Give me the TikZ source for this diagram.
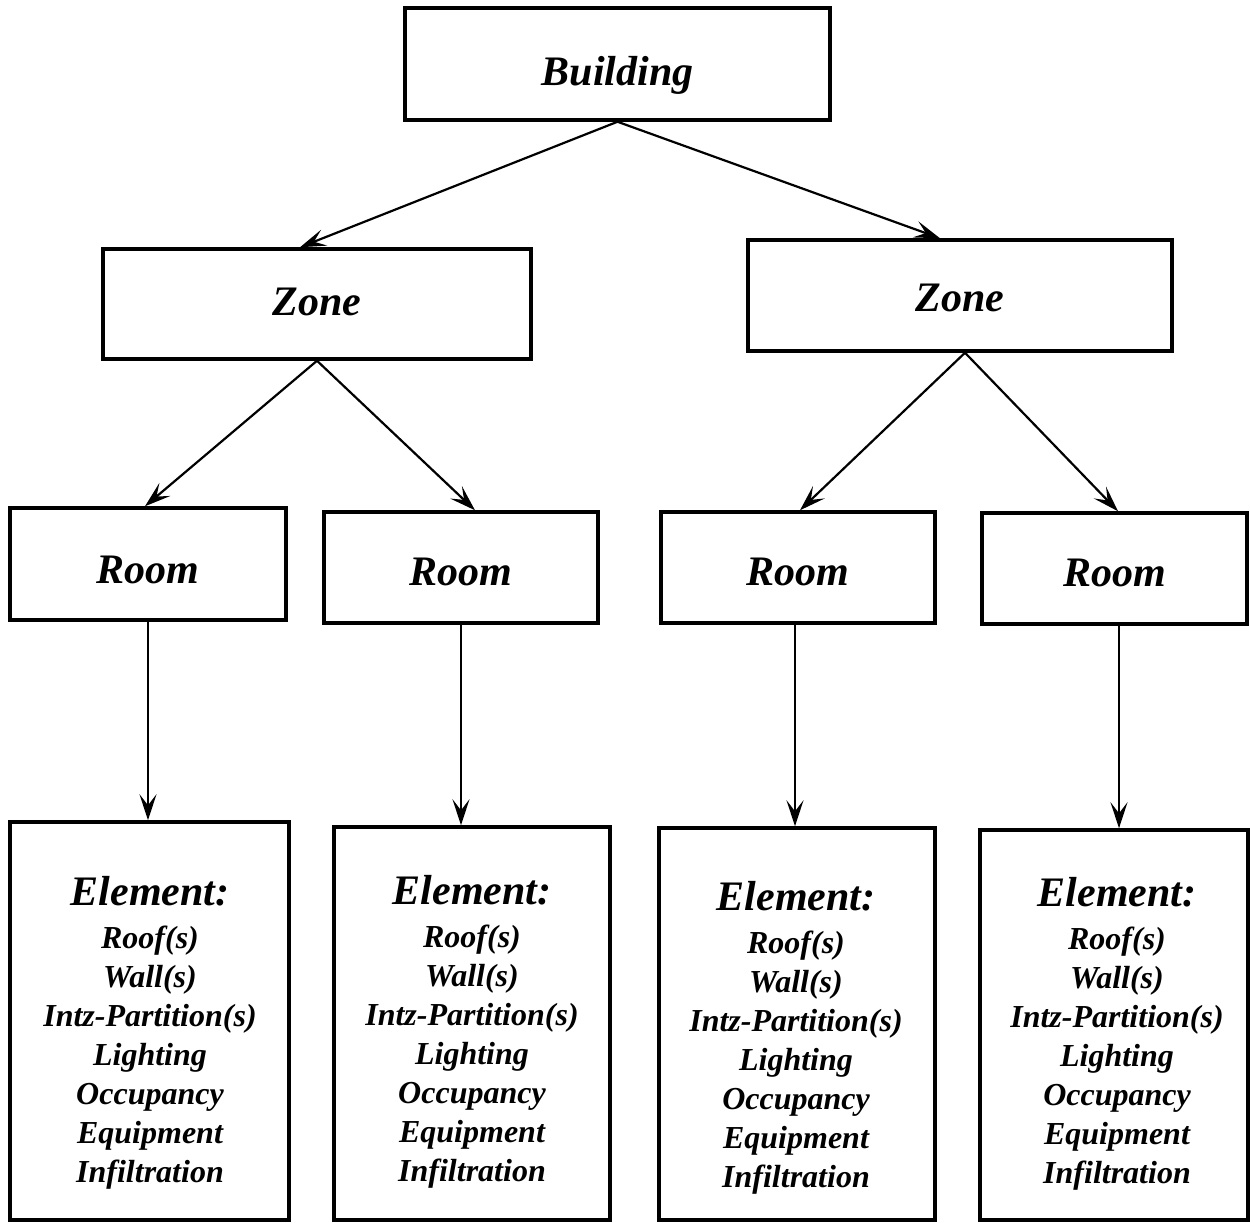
\documentclass[tikz,border=0pt]{standalone}
\usepackage{fontspec}
\setmainfont{Liberation Serif}
\usetikzlibrary{arrows.meta}
\begin{document}
\begin{tikzpicture}[x=1pt,y=-1pt,
  box/.style={draw, line width=3.5pt, rectangle, inner sep=0pt, text depth=0pt, font=\fontsize{42}{48}\selectfont\bfseries\itshape},
  ebox/.style={draw, line width=3.5pt, rectangle, inner sep=0pt},
  etext/.style={inner sep=0pt, align=center, font=\fontsize{32}{39}\selectfont\bfseries\itshape},
  arr/.style={line width=2.2pt, -{Stealth[length=26pt,width=17pt,inset=11pt]}}
]
\useasboundingbox (0,0) rectangle (1250,1223);
\node[box, minimum width=425pt, minimum height=112pt, text height=42pt] (b) at (617.5,64) {Building};
\node[box, minimum width=428pt, minimum height=110pt, text height=22pt] (zl) at (317,304) {Zone};
\node[box, minimum width=424pt, minimum height=111pt, text height=31pt] (zr) at (960,295.5) {Zone};
\node[box, minimum width=276pt, minimum height=112pt, text height=38pt] (r1) at (148,564) {Room};
\node[box, minimum width=274pt, minimum height=111pt, text height=36pt] (r2) at (461,567.5) {Room};
\node[box, minimum width=274pt, minimum height=111pt, text height=36pt] (r3) at (798,567.5) {Room};
\node[box, minimum width=265pt, minimum height=111pt, text height=36pt] (r4) at (1114.5,568.5) {Room};
\newcommand{\elemtext}{{\fontsize{42}{46}\selectfont Element:}\\[4pt]Roof(s)\\Wall(s)\\Intz-Partition(s)\\Lighting\\Occupancy\\Equipment\\Infiltration}
\node[ebox, minimum width=279pt, minimum height=398pt] (e1) at (149.5,1021) {};
\node[ebox, minimum width=276pt, minimum height=393pt] (e2) at (472,1023.5) {};
\node[ebox, minimum width=276pt, minimum height=392pt] (e3) at (797,1024) {};
\node[ebox, minimum width=268pt, minimum height=390pt] (e4) at (1114,1025) {};
\node[etext] (e1t) at (150,1032.5) {\elemtext};
\node[etext] (e2t) at (472,1032) {\elemtext};
\node[etext] (e3t) at (796,1038) {\elemtext};
\node[etext] (e4t) at (1117,1034) {\elemtext};
\draw[arr] (b.south) -- ([xshift=-17pt]zl.north);
\draw[arr] (b.south) -- ([xshift=-20pt]zr.north);
\draw[arr] (zl.south) -- ([xshift=-3pt]r1.north);
\draw[arr] (zl.south) -- ([xshift=14pt]r2.north);
\draw[arr] ([xshift=5pt]zr.south) -- ([xshift=2pt]r3.north);
\draw[arr] ([xshift=5pt]zr.south) -- ([xshift=3.5pt]r4.north);
\draw[arr] ([yshift=3pt]r1.south) -- (r1.south |- e1.north);
\draw[arr] ([yshift=2pt]r2.south) -- (r2.south |- e2.north);
\draw[arr] ([xshift=-3pt,yshift=2pt]r3.south) -- ([xshift=-3pt]r3.south |- e3.north);
\draw[arr] ([xshift=4.5pt,yshift=2pt]r4.south) -- ([xshift=4.5pt]r4.south |- e4.north);
\end{tikzpicture}
\end{document}
